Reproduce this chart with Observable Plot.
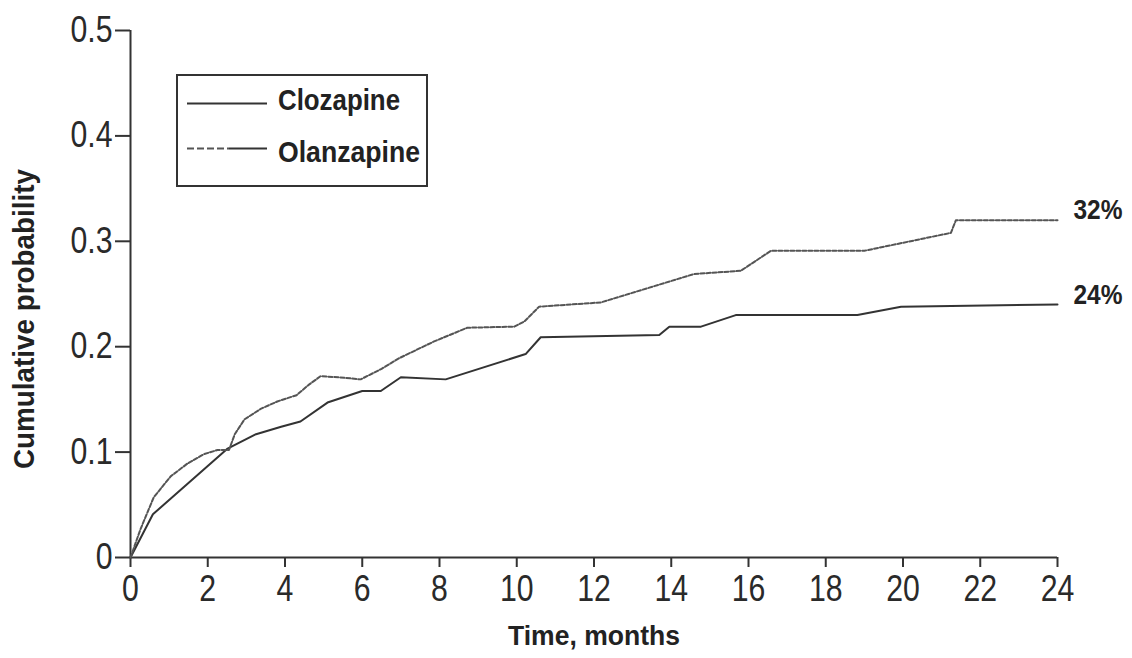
<!DOCTYPE html>
<html><head><meta charset="utf-8">
<script src="https://cdn.jsdelivr.net/npm/d3@7"></script>
<script src="https://cdn.jsdelivr.net/npm/@observablehq/plot@0.6"></script>
<style>
body{margin:0;background:#fff;}
#wrap{position:relative;width:1132px;height:658px;}
#legend{position:absolute;left:170px;top:68px;}
</style></head><body><div id="wrap"></div>
<script>
const xTicks = [0, 2, 4, 6, 8, 10, 12, 14, 16, 18, 20, 22, 24];
const yTicks = [0, 0.1, 0.2, 0.3, 0.4, 0.5];
const yTickLabels = ["0", "0.1", "0.2", "0.3", "0.4", "0.5"];
const seriesNames = ["Clozapine", "Olanzapine"];
const clozapineTime = [0, 0.58, 2.5, 3.25, 3.9, 4.4, 5.1, 6.0, 6.48, 7.0, 8.16, 10.23, 10.62, 13.69, 13.95, 14.77, 15.67, 18.82, 19.95, 24];
const clozapineProb = [0, 0.041, 0.103, 0.117, 0.124, 0.129, 0.147, 0.158, 0.158, 0.171, 0.169, 0.193, 0.209, 0.211, 0.219, 0.219, 0.230, 0.230, 0.238, 0.240];
const olanzapineTime = [0, 0.26, 0.6, 1.04, 1.47, 1.9, 2.25, 2.55, 2.7, 2.95, 3.37, 3.8, 4.3, 4.62, 4.92, 5.4, 5.96, 6.5, 6.95, 7.86, 8.72, 9.93, 10.2, 10.58, 12.18, 14.59, 15.8, 16.58, 19.0, 21.24, 21.37, 24];
const olanzapineProb = [0, 0.027, 0.057, 0.077, 0.089, 0.098, 0.102, 0.102, 0.117, 0.131, 0.141, 0.148, 0.154, 0.164, 0.172, 0.171, 0.169, 0.179, 0.189, 0.205, 0.218, 0.219, 0.224, 0.238, 0.242, 0.269, 0.272, 0.291, 0.291, 0.308, 0.320, 0.320];
const endLabels = ["24%", "32%"];
const xLabel = "Time, months";
const yLabel = "Cumulative probability";

const FONT = '"Liberation Sans", Arial, sans-serif';
const cloz = clozapineTime.map((t, i) => ({t, p: clozapineProb[i]}));
const olan = olanzapineTime.map((t, i) => ({t, p: olanzapineProb[i]}));
const ends = [
  {t: clozapineTime.at(-1), p: clozapineProb.at(-1), label: endLabels[0]},
  {t: olanzapineTime.at(-1), p: olanzapineProb.at(-1), label: endLabels[1]}
];

const plot = Plot.plot({
  width: 1132, height: 658,
  marginLeft: 130, marginRight: 75, marginTop: 30, marginBottom: 101,
  style: {fontFamily: FONT, background: "#fff", overflow: "visible", color: "#222"},
  x: {domain: [0, 24]},
  y: {domain: [0, 0.5]},
  marks: [
    Plot.ruleX([0], {stroke: "#333", strokeWidth: 2}),
    Plot.ruleY([0], {stroke: "#333", strokeWidth: 2}),
    Plot.axisY({ticks: yTicks, tickFormat: d => yTickLabels[yTicks.indexOf(d)], tickSize: 15, tickPadding: 3, fontSize: 36, stroke: "#333", strokeWidth: 2, fill: "#2a2a2a", label: null}),
    Plot.axisX({ticks: xTicks, tickFormat: d => String(d), tickSize: 10, tickPadding: 8, fontSize: 36, stroke: "#333", strokeWidth: 2, fill: "#2a2a2a", label: null}),
    Plot.line(cloz, {x: "t", y: "p", stroke: "#333", strokeWidth: 2}),
    Plot.line(olan, {x: "t", y: "p", stroke: "#555", strokeWidth: 2, strokeDasharray: "4,2"}),
    Plot.text(ends, {x: "t", y: "p", text: "label", textAnchor: "start", dx: 16, dy: -10, fontSize: 28, fontWeight: "bold", fill: "#222"}),
    Plot.text([xLabel], {text: d => d, frameAnchor: "bottom", dy: 87, fontSize: 28, fontWeight: "bold", fill: "#222"}),
    Plot.text([yLabel], {text: d => d, frameAnchor: "left", textAnchor: "middle", dx: -106, dy: 25, rotate: -90, fontSize: 30, fontWeight: "bold", fill: "#222"})
  ]
});
const wrap = document.getElementById("wrap");
wrap.appendChild(plot);

// legend
const ns = "http://www.w3.org/2000/svg";
const lg = document.createElementNS(ns, "svg");
lg.setAttribute("id", "legend");
lg.setAttribute("width", 270);
lg.setAttribute("height", 125);
lg.innerHTML = `
  <rect x="7" y="7" width="250" height="111" fill="#fff" stroke="#333" stroke-width="2"/>
  <line x1="17" x2="97" y1="35.5" y2="35.5" stroke="#333" stroke-width="2"/>
  <line x1="17" x2="59" y1="80.5" y2="80.5" stroke="#555" stroke-width="2" stroke-dasharray="7,3"/>
  <line x1="59" x2="97" y1="80.5" y2="80.5" stroke="#333" stroke-width="2"/>
  <text x="108" y="42" font-family='${FONT}' font-weight="bold" font-size="30" fill="#222">${seriesNames[0]}</text>
  <text x="108" y="94" font-family='${FONT}' font-weight="bold" font-size="30" fill="#222">${seriesNames[1]}</text>`;
wrap.appendChild(lg);

// condense text to mimic a narrow typeface
const widths = {"Time, months": 172, "Cumulative probability": 300, "Clozapine": 122, "Olanzapine": 142, "24%": 49, "32%": 49};
wrap.querySelectorAll("text").forEach(t => {
  const s = t.textContent;
  let len = widths[s];
  if (len == null && /^[0-9.]+$/.test(s)) len = t.getComputedTextLength() * 0.84;
  if (len != null) {
    t.setAttribute("textLength", len);
    t.setAttribute("lengthAdjust", "spacingAndGlyphs");
  }
});
</script></body></html>
